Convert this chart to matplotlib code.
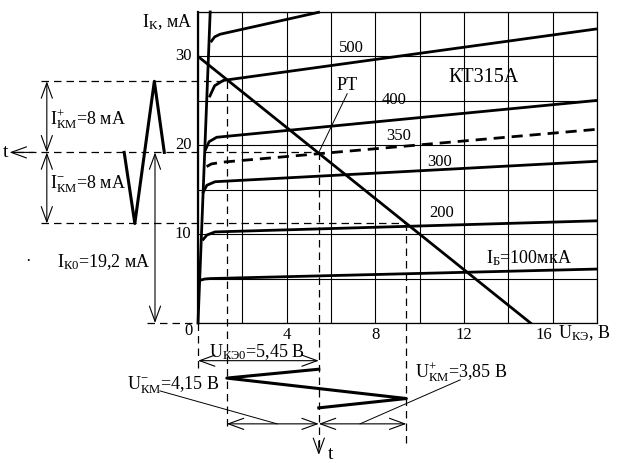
import matplotlib
matplotlib.use("Agg")
import matplotlib.pyplot as plt

plt.rcParams['font.family'] = ['Liberation Serif', 'DejaVu Serif']
plt.rcParams['mathtext.fontset'] = 'custom'
plt.rcParams['mathtext.rm'] = 'Liberation Serif'
plt.rcParams['mathtext.it'] = 'Liberation Serif:italic'

# output characteristics of KT315A, Ik (mA) vs Uke (V)
curve_ib = ['100', '200', '300', '350', '400', '500', '600']
curve_u = [
    [0.09, 0.3, 0.54, 18.0],
    [0.2, 0.4, 0.77, 18.0],
    [0.21, 0.4, 0.77, 18.0],
    [0.39, 0.6, 1.1, 18.0],
    [0.32, 0.5, 0.84, 18.0],
    [0.51, 0.75, 1.14, 18.0],
    [0.57, 0.75, 1.0, 5.5],
]
curve_i = [
    [4.8, 4.95, 5.0, 6.07],
    [9.3, 9.9, 10.25, 11.5],
    [14.6, 15.5, 15.9, 18.2],
    [17.6, 17.9, 18.1, 21.8],
    [19.4, 20.4, 20.9, 25.05],
    [25.4, 26.7, 27.3, 33.1],
    [31.6, 32.2, 32.5, 35.0],
]
dashed_curve = '350'

# saturation line and load line
sat_u = [0.0, 0.55]
sat_i = [0.0, 35.0]
load_u = [0.0, 15.0]
load_i = [30.0, 0.0]

# operating point and swings
I_K0 = 19.2
I_KM = 8.0
U_KE0 = 5.45
u_swing = [1.3, 5.45, 9.4]          # Uke at Ik = I_K0+I_KM, I_K0, I_K0-I_KM

# left current waveform (time runs to the left, drawn in volt units)
wave_i_t = [-1.52, -1.97, -2.85, -3.33]
wave_i = [19.2, 27.2, 11.2, 19.2]
# lower voltage waveform (time runs downward, drawn in mA units)
wave_u = [5.45, 1.3, 9.4, 5.45]
wave_u_t = [-5.2, -6.2, -8.5, -9.55]

curve_labels = [('500', 6.9, 30.9), ('400', 8.85, 25.05), ('350', 9.07, 21.1),
                ('300', 10.88, 18.1), ('200', 11.0, 12.36)]

fig = plt.figure(figsize=(6.42, 4.63), dpi=100)
ax = fig.add_axes([198 / 642, 1 - 323 / 463, 399 / 642, 311 / 463])
ax.set_xlim(0, 18)
ax.set_ylim(0, 35)
ax.set_xticks(range(0, 19, 2))
ax.set_yticks(range(0, 36, 5))
ax.set_xticklabels([])
ax.set_yticklabels([])
ax.tick_params(length=0)
ax.grid(True, color='black', lw=0.8)
for s in ax.spines.values():
    s.set_linewidth(0.9)
ax.spines['left'].set_linewidth(1.6)

lw = 2.0
for name, u, i in zip(curve_ib, curve_u, curve_i):
    ls = (0, (4, 2.5)) if name == dashed_curve else '-'
    ax.plot(u, i, color='black', lw=lw, ls=ls, clip_on=False, solid_capstyle='butt')
ax.plot(sat_u, sat_i, color='black', lw=lw, clip_on=False)
ax.plot(load_u, load_i, color='black', lw=lw)

dash = dict(color='black', lw=0.9, ls=(0, (6, 4)), clip_on=False)
i_hi, i_lo = I_K0 + I_KM, I_K0 - I_KM
ax.plot([-7.1, u_swing[0]], [i_hi, i_hi], **dash)
ax.plot([-8.2, u_swing[1]], [I_K0, I_K0], **dash)
ax.plot([-7.1, u_swing[2]], [i_lo, i_lo], **dash)
ax.plot([-2.3, 0], [0, 0], **dash)
ax.plot([u_swing[0], u_swing[0]], [i_hi, -12.2], **dash)
ax.plot([u_swing[1], u_swing[1]], [I_K0, -13.9], **dash)
ax.plot([u_swing[2], u_swing[2]], [i_lo, -13.6], **dash)
ax.plot([0, 0], [0, -5.1], **dash)

# waveforms
ax.plot(wave_i_t, wave_i, color='black', lw=2.2, clip_on=False)
ax.plot(wave_u, wave_u_t, color='black', lw=2.2, clip_on=False)

# dimension arrows
arr = dict(arrowstyle='<->,head_length=0.55,head_width=0.2', color='black', lw=0.8,
           mutation_scale=20, shrinkA=0, shrinkB=0)
def dim(p0, p1, style=arr):
    ax.annotate('', xy=p1, xytext=p0, arrowprops=style, annotation_clip=False)

dim((-6.82, i_hi), (-6.82, I_K0))
dim((-6.82, I_K0), (-6.82, i_lo))
dim((-1.94, I_K0), (-1.94, 0))
dim((0, -4.24), (U_KE0, -4.24))
dim((u_swing[0], -11.35), (u_swing[1], -11.35))
dim((u_swing[1], -11.35), (u_swing[2], -11.35))
one = dict(arr, arrowstyle='->,head_length=0.55,head_width=0.2')
dim((-7.4, I_K0), (-8.5, I_K0), one)
dim((u_swing[1], -13.3), (u_swing[1], -14.85), one)

# leader lines
thin = dict(color='black', lw=0.7, clip_on=False)
ax.plot([-1.72, 3.57], [-7.64, -11.35], **thin)
ax.plot([7.31, 11.83], [-11.35, -6.4], **thin)
ax.plot([6.73, U_KE0], [25.8, I_K0], **thin)

fs = 12
lfs = 13
tk = dict(fontsize=fs, ha='center', va='center', clip_on=False)
for v in [4, 8, 12]:
    ax.text(v, -1.35, str(v), **tk)
ax.text(15.6, -1.35, '16', **tk)
ax.text(-0.45, -0.9, '0', **tk)
for v in [10, 20, 30]:
    ax.text(-0.3, v, str(v), fontsize=fs, ha='right', va='center')

ax.text(-0.25, 33.9, r'$\mathrm{I_{К}}$, мА', fontsize=lfs, ha='right', va='center')
ax.text(16.25, -1.15, r'$\mathrm{U_{КЭ}}$, В', fontsize=lfs, ha='left', va='center')
ax.text(12.87, 27.6, 'КТ315А', fontsize=14.5, ha='center', va='center')
ax.text(6.73, 26.7, 'РТ', fontsize=lfs, ha='center', va='center')
for t, x, y in curve_labels:
    ax.text(x, y, t, fontsize=12, ha='center', va='center')
ax.text(13.0, 7.3, r'$\mathrm{I_{Б}}$=100мкА', fontsize=lfs, ha='left', va='center')

ax.text(-6.68, 23.0, r'$\mathrm{I^{+}_{КМ}}$=8 мА', fontsize=lfs, ha='left', va='center')
ax.text(-6.68, 15.6, r'$\mathrm{I^{-}_{КМ}}$=8 мА', fontsize=lfs, ha='left', va='center')
ax.text(-6.37, 6.85, r'$\mathrm{I_{К0}}$=19,2 мА', fontsize=lfs, ha='left', va='center')
ax.text(-7.67, 6.85, '·', fontsize=fs, ha='center', va='center')
ax.text(-8.67, I_K0, 't', fontsize=14, ha='center', va='center')
ax.text(2.66, -3.26, r'$\mathrm{U_{КЭ0}}$=5,45 В', fontsize=lfs, ha='center', va='center')
ax.text(-3.2, -6.97, r'$\mathrm{U^{-}_{КМ}}$=4,15 В', fontsize=lfs, ha='left', va='center')
ax.text(9.8, -5.5, r'$\mathrm{U^{+}_{КМ}}$=3,85 В', fontsize=lfs, ha='left', va='center')
ax.text(6.0, -14.8, 't', fontsize=14, ha='center', va='center')

fig.savefig('out.png', dpi=100)
